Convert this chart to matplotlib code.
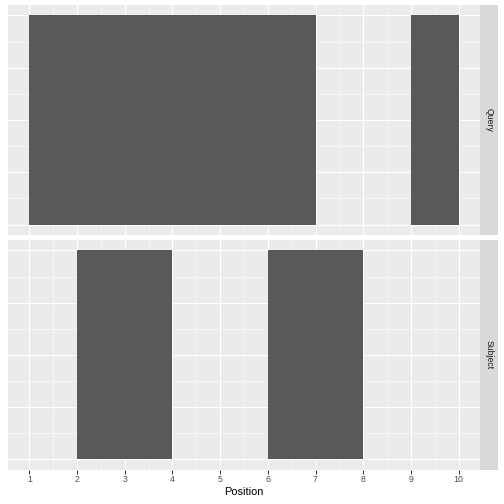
import matplotlib
matplotlib.use("Agg")
import matplotlib.pyplot as plt
from matplotlib.ticker import MultipleLocator

plt.rcParams["font.family"] = ["Liberation Sans", "DejaVu Sans"]

# facet labels and the ranges (start, end) covered in each facet
panels = ["Query", "Subject"]
starts = {"Query": [1, 9], "Subject": [2, 6]}
ends = {"Query": [7, 10], "Subject": [4, 8]}
x_ticks = [1, 2, 3, 4, 5, 6, 7, 8, 9, 10]

W = H = 504
fig = plt.figure(figsize=(7, 7), dpi=72)

# pixel boxes (left, top, right, bottom) for each panel
boxes = [(8, 5, 480, 235), (8, 240, 480, 469.5)]
strip_right = 498

for name, (l, t, r, b) in zip(panels, boxes):
    ax = fig.add_axes([l / W, 1 - b / H, (r - l) / W, (b - t) / H])
    ax.set_facecolor("#EBEBEB")
    for s in ax.spines.values():
        s.set_visible(False)

    for x0, x1 in zip(starts[name], ends[name]):
        ax.bar(x0, 1, width=x1 - x0, align="edge", color="#595959", zorder=3)

    ax.set_xlim(0.55, 10.45)
    ax.set_ylim(-0.05, 1.05)
    ax.set_xticks(x_ticks)
    ax.xaxis.set_minor_locator(MultipleLocator(0.5))
    ax.yaxis.set_major_locator(MultipleLocator(0.25))
    ax.yaxis.set_minor_locator(MultipleLocator(0.125))
    ax.grid(which="major", color="white", linewidth=1.1, zorder=1)
    ax.grid(which="minor", color="white", linewidth=0.55, zorder=1)
    ax.set_axisbelow(True)
    ax.tick_params(axis="y", which="both", left=False, labelleft=False)
    ax.tick_params(axis="x", which="minor", bottom=False)
    if name == panels[-1]:
        ax.tick_params(axis="x", which="major", length=3.5, width=1.0,
                       color="#333333", labelcolor="#4D4D4D", labelsize=8.8, pad=2)
        ax.set_xlabel("Position", fontsize=11, color="black", labelpad=3)
    else:
        ax.tick_params(axis="x", which="both", bottom=False, labelbottom=False)

    # facet strip on the right
    sax = fig.add_axes([r / W, 1 - b / H, (strip_right - r) / W, (b - t) / H])
    sax.set_facecolor("#D9D9D9")
    sax.set_xticks([])
    sax.set_yticks([])
    for s in sax.spines.values():
        s.set_visible(False)
    sax.text(0.5, 0.5, name, rotation=-90, ha="center", va="center",
             fontsize=8.8, color="#1A1A1A", transform=sax.transAxes)

fig.savefig("out.png", dpi=72, facecolor="white")
